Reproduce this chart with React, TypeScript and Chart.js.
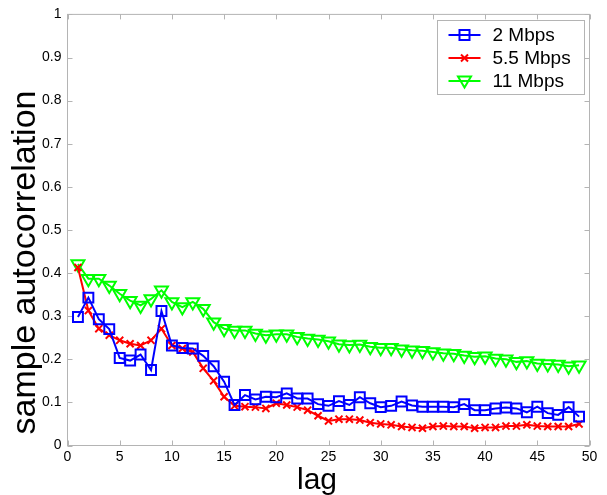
import React, { useEffect, useRef } from 'react';
import { Chart, registerables } from 'chart.js';

Chart.register(...registerables);

const lags = [
  1, 2, 3, 4, 5, 6, 7, 8, 9, 10, 11, 12, 13, 14, 15, 16, 17, 18, 19, 20, 21, 22, 23, 24, 25,
  26, 27, 28, 29, 30, 31, 32, 33, 34, 35, 36, 37, 38, 39, 40, 41, 42, 43, 44, 45, 46, 47, 48, 49,
];

const series2Mbps = [
  0.298, 0.343, 0.293, 0.27, 0.203, 0.197, 0.211, 0.175, 0.312, 0.232,
  0.226, 0.225, 0.208, 0.184, 0.148, 0.094, 0.117, 0.107, 0.113, 0.112,
  0.121, 0.109, 0.109, 0.096, 0.092, 0.103, 0.094, 0.112, 0.098, 0.089,
  0.092, 0.102, 0.093, 0.09, 0.09, 0.09, 0.089, 0.096, 0.082, 0.082,
  0.086, 0.088, 0.086, 0.077, 0.09, 0.075, 0.071, 0.089, 0.067,
];

const series55Mbps = [
  0.413, 0.313, 0.271, 0.256, 0.244, 0.236, 0.232, 0.244, 0.271, 0.232,
  0.225, 0.217, 0.179, 0.15, 0.113, 0.092, 0.09, 0.089, 0.086, 0.098,
  0.094, 0.089, 0.082, 0.069, 0.057, 0.061, 0.061, 0.059, 0.053, 0.05,
  0.048, 0.044, 0.042, 0.04, 0.044, 0.045, 0.044, 0.044, 0.04, 0.042,
  0.042, 0.045, 0.045, 0.048, 0.045, 0.044, 0.044, 0.044, 0.05,
];

const series11Mbps = [
  0.421, 0.387, 0.387, 0.371, 0.352, 0.336, 0.325, 0.34, 0.36, 0.333,
  0.321, 0.333, 0.317, 0.286, 0.271, 0.267, 0.267, 0.26, 0.256, 0.258,
  0.258, 0.252, 0.248, 0.246, 0.242, 0.235, 0.233, 0.234, 0.229, 0.227,
  0.227, 0.223, 0.221, 0.22, 0.217, 0.214, 0.213, 0.209, 0.206, 0.207,
  0.202, 0.2, 0.194, 0.196, 0.19, 0.189, 0.188, 0.184, 0.186,
];

const seriesLabels = ['2 Mbps', '5.5 Mbps', '11 Mbps'];
const seriesColors = ['#0000ff', '#ff0000', '#00ff00'];
const seriesMarkers = ['square', 'x', 'triangleDown'];

const xTickLabels = ['0', '5', '10', '15', '20', '25', '30', '35', '40', '45', '50'];
const yTickLabels = ['0', '0.1', '0.2', '0.3', '0.4', '0.5', '0.6', '0.7', '0.8', '0.9', '1'];

const xTitle = 'lag';
const yTitle = 'sample autocorrelation';

const FONT = "'Liberation Sans', Arial, Helvetica, sans-serif";
const AXIS_GRAY = '#b4b4b4';

function drawMarker(ctx: CanvasRenderingContext2D, kind: string, x: number, y: number) {
  ctx.beginPath();
  if (kind === 'square') {
    ctx.rect(x - 5, y - 5, 10, 10);
  } else if (kind === 'x') {
    ctx.moveTo(x - 3.5, y - 3.5);
    ctx.lineTo(x + 3.5, y + 3.5);
    ctx.moveTo(x + 3.5, y - 3.5);
    ctx.lineTo(x - 3.5, y + 3.5);
  } else {
    ctx.moveTo(x - 6.5, y - 4.5);
    ctx.lineTo(x + 6.5, y - 4.5);
    ctx.lineTo(x, y + 6.5);
    ctx.closePath();
  }
  ctx.stroke();
}

const frameTicksPlugin = {
  id: 'frameTicks',
  beforeDatasetsDraw(chart: any) {
    const { ctx, chartArea, scales } = chart;
    const { left, right, top, bottom } = chartArea;
    ctx.save();
    ctx.strokeStyle = AXIS_GRAY;
    ctx.lineWidth = 1;
    ctx.strokeRect(left, top, right - left, bottom - top);
    const len = 5;
    ctx.beginPath();
    scales.x.ticks.forEach((t: any) => {
      const px = Math.round(scales.x.getPixelForValue(t.value)) + 0.5;
      ctx.moveTo(px, bottom);
      ctx.lineTo(px, bottom - len);
      ctx.moveTo(px, top);
      ctx.lineTo(px, top + len);
    });
    scales.y.ticks.forEach((t: any) => {
      const py = Math.round(scales.y.getPixelForValue(t.value)) + 0.5;
      ctx.moveTo(left, py);
      ctx.lineTo(left + len, py);
      ctx.moveTo(right, py);
      ctx.lineTo(right - len, py);
    });
    ctx.stroke();
    ctx.restore();
  },
};

const axisTitlesPlugin = {
  id: 'axisTitles',
  afterDraw(chart: any) {
    const { ctx, chartArea } = chart;
    ctx.save();
    ctx.fillStyle = '#000000';
    // x title
    ctx.font = `30px ${FONT}`;
    ctx.textAlign = 'center';
    ctx.textBaseline = 'alphabetic';
    ctx.fillText(xTitle, (chartArea.left + chartArea.right) / 2 - 11.5, chartArea.bottom + 43.5);
    // y title
    ctx.translate(35, chartArea.bottom - 11);
    ctx.rotate(-Math.PI / 2);
    ctx.font = `34px ${FONT}`;
    ctx.textAlign = 'left';
    ctx.textBaseline = 'alphabetic';
    ctx.fillText(yTitle, 0, 0);
    ctx.restore();
  },
};

const boxLegendPlugin = {
  id: 'boxLegend',
  afterDraw(chart: any) {
    const { ctx, chartArea } = chart;
    const w = 147;
    const h = 74;
    const x0 = Math.round(chartArea.right - 6 - w) + 0.5;
    const y0 = Math.round(chartArea.top + 6) + 0.5;
    ctx.save();
    ctx.fillStyle = '#ffffff';
    ctx.fillRect(x0, y0, w, h);
    ctx.strokeStyle = AXIS_GRAY;
    ctx.lineWidth = 1;
    ctx.strokeRect(x0, y0, w, h);
    chart.data.datasets.forEach((ds: any, i: number) => {
      const cy = y0 + 14.5 + i * 23;
      ctx.strokeStyle = ds.borderColor;
      ctx.lineWidth = 2;
      ctx.beginPath();
      ctx.moveTo(x0 + 11, cy);
      ctx.lineTo(x0 + 43, cy);
      ctx.stroke();
      drawMarker(ctx, seriesMarkers[i], x0 + 27, cy);
      ctx.fillStyle = '#000000';
      ctx.font = `19px ${FONT}`;
      ctx.textBaseline = 'middle';
      ctx.textAlign = 'left';
      ctx.fillText(ds.label, x0 + 55, cy + 1);
    });
    ctx.restore();
  },
};

export default function App() {
  const canvasRef = useRef<HTMLCanvasElement | null>(null);

  useEffect(() => {
    const canvas = canvasRef.current;
    if (!canvas) return;
    const seriesValues = [series2Mbps, series55Mbps, series11Mbps];
    const pointStyles: any[] = ['rect', 'crossRot', 'triangle'];
    const pointRadii = [7, 5, 7.5];
    const pointRotations = [0, 0, 180];

    const chart = new Chart(canvas, {
      type: 'line',
      data: {
        datasets: seriesValues.map((vals, i) => ({
          label: seriesLabels[i],
          data: lags.map((lag, k) => ({ x: lag, y: vals[k] })),
          borderColor: seriesColors[i],
          backgroundColor: seriesColors[i],
          borderWidth: 2,
          pointStyle: pointStyles[i],
          pointRadius: pointRadii[i],
          pointRotation: pointRotations[i],
          pointBorderColor: seriesColors[i],
          pointBackgroundColor: 'rgba(0,0,0,0)',
          pointBorderWidth: 2,
          tension: 0,
          fill: false,
        })),
      },
      options: {
        responsive: false,
        animation: false,
        devicePixelRatio: 1,
        layout: { padding: { top: 12.5, right: 17.5, left: 0, bottom: 0 } },
        plugins: {
          legend: { display: false },
          tooltip: { enabled: false },
        },
        scales: {
          x: {
            type: 'linear',
            min: 0,
            max: 50,
            ticks: {
              stepSize: 5,
              padding: 3,
              color: '#000000',
              font: { family: FONT, size: 14 },
              maxRotation: 0,
              autoSkip: false,
              callback: (v: any) => xTickLabels[Math.round(Number(v) / 5)],
            },
            grid: { drawOnChartArea: false, drawTicks: false },
            border: { display: false },
            title: { display: false },
            afterFit: (s: any) => {
              s.height = 49.5;
            },
          },
          y: {
            type: 'linear',
            min: 0,
            max: 1,
            ticks: {
              stepSize: 0.1,
              padding: 6,
              color: '#000000',
              font: { family: FONT, size: 14 },
              callback: (v: any) => yTickLabels[Math.round(Number(v) * 10)],
            },
            grid: { drawOnChartArea: false, drawTicks: false },
            border: { display: false },
            title: { display: false },
            afterFit: (s: any) => {
              s.width = 67.5;
            },
          },
        },
      } as any,
      plugins: [frameTicksPlugin, axisTitlesPlugin, boxLegendPlugin],
    });

    return () => {
      chart.destroy();
    };
  }, []);

  return (
    <div style={{ position: 'absolute', left: 0, top: 0, width: 607, height: 495, background: '#ffffff' }}>
      <canvas ref={canvasRef} width={607} height={495} style={{ display: 'block' }} />
    </div>
  );
}
